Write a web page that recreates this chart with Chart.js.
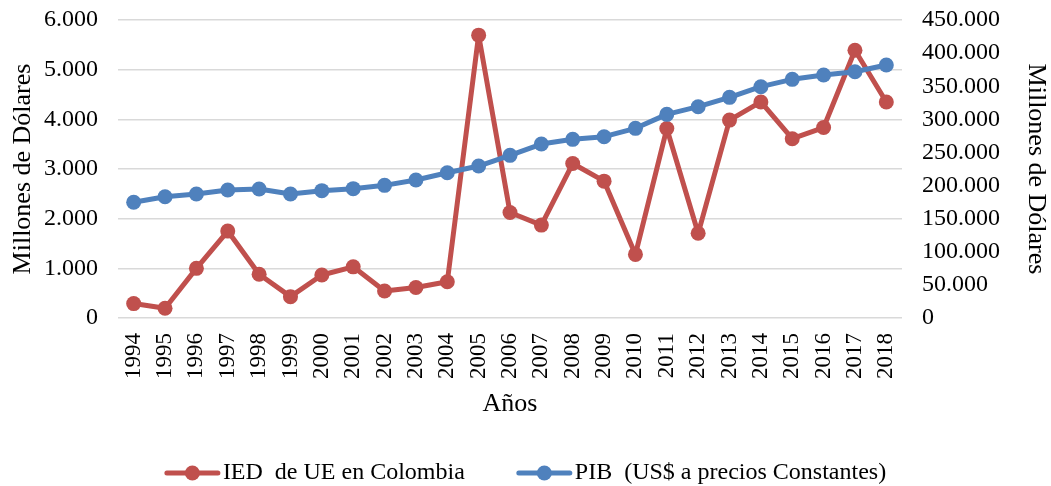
<!DOCTYPE html>
<html lang="es">
<head>
    <meta charset="UTF-8">
    <title>IED de UE en Colombia y PIB</title>
    <!-- chart.js -->
    <script src="https://cdn.jsdelivr.net/npm/chart.js"></script>
    <style>
        html, body { margin:0; padding:0; background:#fff; }
        #wrap { width:1051px; height:486px; }
    </style>
</head>
<body>
    <div id="wrap"><canvas id="myChart"></canvas></div>

    <script>
        //------------------------
        // datos
        //------------------------
        const anios = ['1994','1995','1996','1997','1998','1999','2000','2001','2002','2003','2004','2005',
                       '2006','2007','2008','2009','2010','2011','2012','2013','2014','2015','2016','2017','2018'];

        // IED de UE en Colombia (millones de dolares, eje izquierdo)
        const ied = [290, 195, 1000, 1750, 880, 430, 865, 1030, 545, 615, 730, 5695,
                     2125, 1870, 3110, 2755, 1280, 3815, 1705, 3985, 4350, 3610, 3835, 5390, 4350];

        // PIB a precios constantes (millones de dolares, eje derecho)
        const pib = [174700, 183200, 187200, 193300, 194800, 187200, 192300, 195300, 200300, 208400, 219400, 229500,
                     245600, 262700, 269800, 273800, 286400, 307500, 319100, 333200, 349300, 360400, 366900, 371900, 382000];

        const etiquetas = ['IED  de UE en Colombia', 'PIB  (US$ a precios Constantes)'];
        const colores = ['#C0504D', '#4F81BD'];

        const fuente = '"Liberation Serif", "Times New Roman", serif';

        // separador de miles con punto
        const miles = v => String(v).replace(/\B(?=(\d{3})+(?!\d))/g, '.');

        // leyenda al estilo excel (linea + punto)
        const leyendaPlugin = {
            id: 'leyenda',
            afterDraw(chart) {
                const ctx = chart.ctx;
                ctx.save();
                ctx.font = '24px ' + fuente;
                ctx.textBaseline = 'middle';
                ctx.textAlign = 'left';
                const linea = 55, sep = 3, hueco = 52;
                const items = chart.data.datasets.map(ds => ({
                    texto: ds.label,
                    color: ds.borderColor,
                    ancho: ctx.measureText(ds.label).width
                }));
                const total = items.reduce((s, it) => s + linea + sep + it.ancho, 0) + hueco * (items.length - 1);
                let x = (chart.width - total) / 2;
                const y = chart.height - 13;
                items.forEach(it => {
                    ctx.strokeStyle = it.color;
                    ctx.lineWidth = 5;
                    ctx.lineCap = 'round';
                    ctx.beginPath();
                    ctx.moveTo(x + 2, y);
                    ctx.lineTo(x + linea - 2, y);
                    ctx.stroke();
                    ctx.fillStyle = it.color;
                    ctx.beginPath();
                    ctx.arc(x + linea / 2, y, 7.5, 0, Math.PI * 2);
                    ctx.fill();
                    ctx.fillStyle = '#000';
                    ctx.fillText(it.texto, x + linea + sep, y);
                    x += linea + sep + it.ancho + hueco;
                });
                ctx.restore();
            }
        };

        const serie = (label, valores, eje, color, orden) => ({
            label: label,
            data: valores,
            yAxisID: eje,
            borderColor: color,
            backgroundColor: color,
            borderWidth: 5,
            borderJoinStyle: 'round',
            borderCapStyle: 'round',
            pointRadius: 7.5,
            pointBorderWidth: 0,
            pointBackgroundColor: color,
            tension: 0,
            order: orden
        });

        var data = {
            labels: anios,
            datasets: [
                serie(etiquetas[0], ied, 'y', colores[0], 1),
                serie(etiquetas[1], pib, 'y1', colores[1], 0)
            ]
        };

        var options = {
            responsive: true,
            maintainAspectRatio: false,
            devicePixelRatio: 1,
            animation: false,
            layout: { padding: { top: 20, left: 0, right: 0, bottom: 62 } },
            plugins: {
                legend: { display: false },
                tooltip: { enabled: false }
            },
            scales: {
                x: {
                    type: 'category',
                    offset: true,
                    grid: { display: false, drawTicks: false },
                    border: { display: false },
                    ticks: {
                        autoSkip: false,
                        maxRotation: 90,
                        minRotation: 90,
                        padding: 15,
                        color: '#000',
                        font: { family: fuente, size: 23 }
                    },
                    title: {
                        display: true,
                        text: 'Años',
                        color: '#000',
                        font: { family: fuente, size: 26 },
                        padding: { top: 0, bottom: 4 }
                    },
                    afterFit: s => { s.height = 106; }
                },
                y: {
                    position: 'left',
                    min: 0,
                    max: 6000,
                    grid: { color: '#d9d9d9', lineWidth: 1.5, drawTicks: true, tickLength: 20, tickColor: 'transparent' },
                    border: { display: false },
                    ticks: {
                        stepSize: 1000,
                        padding: 0,
                        color: '#000',
                        font: { family: fuente, size: 24, lineHeight: 1 },
                        callback: v => miles(v)
                    },
                    title: {
                        display: true,
                        text: 'Millones de Dólares',
                        color: '#000',
                        font: { family: fuente, size: 26 },
                        padding: { top: 8, bottom: 0 }
                    },
                    afterFit: s => { s.width = 118; }
                },
                y1: {
                    position: 'right',
                    min: 0,
                    max: 450000,
                    grid: { drawOnChartArea: false, color: 'transparent', drawTicks: true, tickLength: 20, tickColor: 'transparent' },
                    border: { display: false },
                    ticks: {
                        stepSize: 50000,
                        padding: 0,
                        color: '#000',
                        font: { family: fuente, size: 24, lineHeight: 1 },
                        callback: v => miles(v)
                    },
                    title: {
                        display: true,
                        text: 'Millones de Dólares',
                        color: '#000',
                        font: { family: fuente, size: 26 },
                        padding: { top: 0, bottom: 0 }
                    },
                    afterFit: s => { s.width = 149; }
                }
            }
        };

        var ctx = document.querySelector('#myChart').getContext('2d');
        var myChart = new Chart(ctx, {
            type: 'line',
            data: data,
            options: options,
            plugins: [leyendaPlugin]
        });
    </script>
</body>
</html>
